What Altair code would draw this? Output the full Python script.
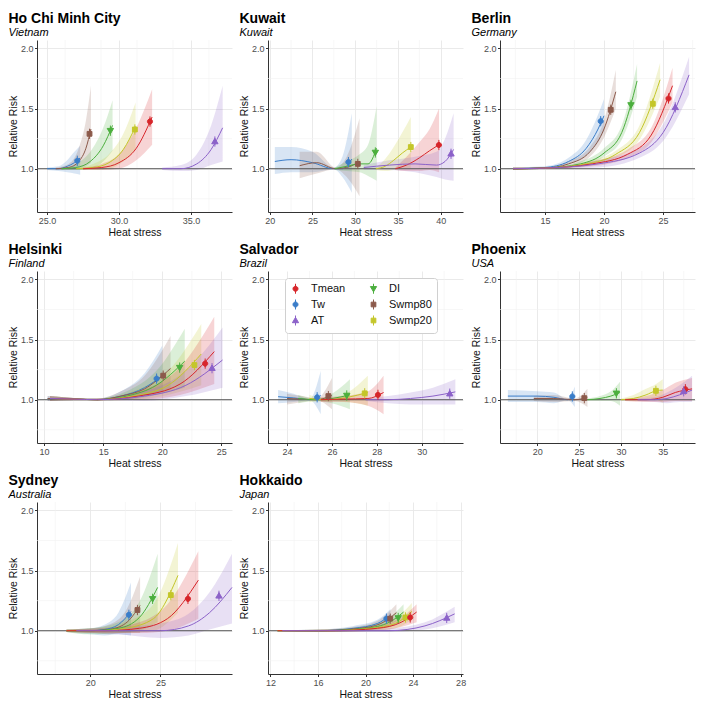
import altair as alt
import pandas as pd

INDICES = ["Tmean", "Tw", "AT", "DI", "Swmp80", "Swmp20"]
COLORS = ["#D7262B", "#3A7DC9", "#8C62C9", "#4CAF3E", "#8C5A4B", "#C4C62A"]

# point + range glyphs (unit-square paths: vertical range line with a marker)
KEY_CIRCLE = "M0,-1V1M-0.5,0A0.5,0.5 0 1,1 0.5,0A0.5,0.5 0 1,1 -0.5,0Z"
KEY_UP = "M0,-1V1M0,-0.62L0.62,0.44L-0.62,0.44Z"
KEY_DOWN = "M0,-1V1M0,0.62L0.62,-0.44L-0.62,-0.44Z"
KEY_SQUARE = "M0,-1V1M-0.47,-0.47H0.47V0.47H-0.47Z"
SHAPES = [KEY_CIRCLE, KEY_CIRCLE, KEY_UP, KEY_DOWN, KEY_SQUARE, KEY_SQUARE]

CITIES = ["Ho Chi Minh City", "Kuwait", "Berlin", "Helsinki", "Salvador",
          "Phoenix", "Sydney", "Hokkaido"]
COUNTRIES = ["Vietnam", "Kuwait", "Germany", "Finland", "Brazil", "USA",
             "Australia", "Japan"]

# curves: index -> (x, RR, lower CI, upper CI)
HCM_CURVES = {
    "Tw":     ([25.0, 25.8, 26.4, 26.9, 27.3], [1.0, 1.0, 1.02, 1.05, 1.09], [0.99, 0.98, 0.97, 0.96, 0.95], [1.01, 1.02, 1.07, 1.14, 1.19]),
    "Swmp80": ([25.6, 26.5, 27.2, 27.7, 28.05], [1.0, 1.01, 1.06, 1.17, 1.33], [0.99, 0.99, 1.0, 1.02, 1.05], [1.01, 1.04, 1.17, 1.40, 1.69]),
    "DI":     ([26.0, 27.0, 28.0, 28.9, 29.55], [1.0, 1.01, 1.06, 1.19, 1.36], [0.99, 0.99, 1.0, 1.06, 1.15], [1.01, 1.04, 1.14, 1.34, 1.57]),
    "Swmp20": ([27.0, 28.2, 29.3, 30.3, 31.15], [1.0, 1.01, 1.05, 1.16, 1.35], [0.99, 0.99, 1.0, 1.06, 1.16], [1.01, 1.04, 1.12, 1.29, 1.55]),
    "Tmean":  ([27.5, 28.8, 30.0, 31.2, 32.3], [1.0, 1.01, 1.05, 1.17, 1.43], [0.99, 0.99, 1.0, 1.07, 1.2], [1.01, 1.04, 1.12, 1.34, 1.66]),
    "AT":     ([33.0, 34.3, 35.4, 36.4, 37.2], [1.0, 1.0, 1.04, 1.16, 1.34], [0.99, 0.98, 0.99, 1.03, 1.06], [1.01, 1.03, 1.12, 1.36, 1.69]),
}
KUW_CURVES = {
    "Tw":     ([20.6, 22.5, 25.0, 27.5, 28.5, 29.6], [1.06, 1.075, 1.05, 1.0, 1.0, 1.08], [0.955, 0.97, 0.97, 0.995, 0.93, 0.80], [1.18, 1.18, 1.14, 1.01, 1.1, 1.46]),
    "Swmp80": ([23.5, 25.5, 27.7, 29.0, 30.5], [1.025, 1.05, 1.0, 1.01, 1.06], [0.92, 0.96, 0.995, 0.93, 0.77], [1.14, 1.14, 1.01, 1.1, 1.42]),
    "DI":     ([27.6, 29.0, 30.5, 31.5, 32.5], [1.0, 1.02, 1.04, 1.04, 1.17], [0.99, 0.98, 0.97, 0.94, 0.90], [1.01, 1.06, 1.12, 1.2, 1.52]),
    "Swmp20": ([32.4, 33.5, 34.5, 35.5, 36.5], [1.0, 1.02, 1.07, 1.13, 1.18], [0.99, 0.98, 0.99, 1.0, 1.0], [1.01, 1.08, 1.18, 1.3, 1.43]),
    "Tmean":  ([34.7, 36.0, 37.5, 38.7, 39.8], [1.0, 1.03, 1.09, 1.15, 1.2], [0.99, 0.98, 0.98, 0.99, 0.97], [1.01, 1.1, 1.22, 1.33, 1.5]),
    "AT":     ([31.0, 34.0, 37.0, 39.5, 40.5, 41.5], [1.01, 1.03, 1.04, 1.03, 1.06, 1.16], [0.99, 0.99, 0.97, 0.93, 0.91, 0.9], [1.03, 1.07, 1.1, 1.14, 1.25, 1.46]),
}
BER_CURVES = {
    "Tw":     ([12.3, 15.0, 17.0, 18.5, 19.5, 20.0], [1.0, 1.01, 1.06, 1.17, 1.33, 1.44], [0.99, 1.0, 1.04, 1.11, 1.22, 1.31], [1.01, 1.02, 1.09, 1.24, 1.45, 1.58]),
    "Swmp80": ([12.3, 15.0, 17.0, 18.8, 20.0, 21.0], [1.0, 1.005, 1.04, 1.14, 1.33, 1.64], [0.99, 1.0, 1.02, 1.1, 1.26, 1.5], [1.01, 1.01, 1.06, 1.18, 1.4, 1.82]),
    "DI":     ([12.3, 15.0, 18.0, 20.0, 21.5, 22.8], [1.0, 1.005, 1.04, 1.13, 1.3, 1.73], [0.99, 1.0, 1.02, 1.1, 1.24, 1.6], [1.01, 1.01, 1.06, 1.17, 1.36, 1.87]),
    "Swmp20": ([12.3, 15.0, 18.5, 21.0, 23.0, 24.75], [1.0, 1.005, 1.04, 1.12, 1.3, 1.74], [0.99, 1.0, 1.02, 1.09, 1.24, 1.6], [1.01, 1.01, 1.06, 1.15, 1.36, 1.88]),
    "Tmean":  ([12.3, 15.0, 19.0, 22.0, 24.0, 25.8], [1.0, 1.005, 1.04, 1.12, 1.28, 1.69], [0.99, 1.0, 1.02, 1.09, 1.22, 1.55], [1.01, 1.01, 1.06, 1.16, 1.34, 1.84]),
    "AT":     ([12.3, 15.0, 19.5, 23.0, 25.0, 27.2], [1.0, 1.005, 1.04, 1.13, 1.3, 1.78], [0.99, 1.0, 1.01, 1.09, 1.23, 1.62], [1.01, 1.01, 1.07, 1.17, 1.37, 1.93]),
}
HEL_CURVES = {
    "Tw":     ([10.3, 12.5, 14.5, 16.5, 18.5, 20.0], [1.01, 1.005, 1.0, 1.03, 1.1, 1.2], [0.99, 0.995, 0.995, 1.0, 1.03, 1.07], [1.03, 1.015, 1.01, 1.07, 1.22, 1.45]),
    "Swmp80": ([10.3, 12.5, 14.5, 16.5, 18.5, 20.7], [1.01, 1.005, 1.0, 1.03, 1.09, 1.26], [0.99, 0.995, 0.995, 1.0, 1.03, 1.08], [1.03, 1.015, 1.01, 1.07, 1.2, 1.53]),
    "DI":     ([10.5, 12.5, 14.5, 17.0, 19.5, 21.9], [1.01, 1.005, 1.0, 1.03, 1.12, 1.32], [0.99, 0.995, 0.995, 1.0, 1.04, 1.1], [1.03, 1.015, 1.01, 1.07, 1.24, 1.59]),
    "Swmp20": ([10.5, 12.5, 14.5, 17.5, 20.5, 23.3], [1.01, 1.005, 1.0, 1.03, 1.12, 1.38], [0.99, 0.995, 0.995, 1.0, 1.04, 1.12], [1.03, 1.015, 1.01, 1.07, 1.24, 1.63]),
    "Tmean":  ([10.5, 12.5, 14.5, 18.0, 21.5, 24.4], [1.01, 1.005, 1.0, 1.03, 1.13, 1.4], [0.99, 0.995, 0.995, 1.0, 1.04, 1.13], [1.03, 1.015, 1.01, 1.07, 1.27, 1.69]),
    "AT":     ([10.5, 12.5, 14.5, 18.5, 22.0, 25.1], [1.01, 1.005, 1.0, 1.03, 1.12, 1.33], [0.99, 0.995, 0.995, 0.99, 1.03, 1.1], [1.03, 1.015, 1.01, 1.07, 1.24, 1.6]),
}
SAL_CURVES = {
    "Tw":     ([23.6, 24.3, 25.0, 25.5], [1.025, 1.015, 1.0, 1.035], [0.97, 0.98, 0.995, 0.88], [1.08, 1.05, 1.005, 1.24]),
    "Swmp80": ([24.0, 24.7, 25.3, 26.0], [1.01, 1.005, 1.0, 1.035], [0.96, 0.98, 0.995, 0.92], [1.05, 1.03, 1.01, 1.18]),
    "DI":     ([24.5, 25.3, 26.0, 26.8], [1.01, 1.0, 1.01, 1.04], [0.97, 0.99, 0.97, 0.92], [1.04, 1.01, 1.05, 1.17]),
    "Swmp20": ([25.0, 25.8, 26.7, 27.6], [1.01, 1.0, 1.02, 1.06], [0.98, 0.99, 0.98, 0.95], [1.04, 1.01, 1.06, 1.2]),
    "Tmean":  ([25.5, 26.5, 27.6, 28.3], [1.0, 1.005, 1.01, 1.06], [0.98, 0.98, 0.95, 0.88], [1.02, 1.03, 1.07, 1.2]),
    "AT":     ([27.5, 28.5, 29.5, 30.5, 31.5], [1.0, 1.0, 1.01, 1.03, 1.065], [0.99, 0.97, 0.96, 0.96, 0.96], [1.01, 1.03, 1.06, 1.1, 1.17]),
}
PHX_CURVES = {
    "Tw":     ([16.5, 20.0, 22.0, 23.6, 24.5], [1.03, 1.03, 1.02, 1.0, 1.03], [0.98, 0.98, 0.97, 0.995, 0.94], [1.08, 1.07, 1.06, 1.005, 1.11]),
    "Swmp80": ([19.6, 22.0, 24.5, 26.0], [1.01, 1.01, 1.0, 1.02], [0.99, 0.98, 0.99, 0.94], [1.03, 1.04, 1.01, 1.09]),
    "DI":     ([26.0, 27.5, 28.8, 29.9], [1.0, 1.01, 1.03, 1.06], [0.99, 0.99, 0.99, 0.95], [1.01, 1.03, 1.07, 1.15]),
    "Swmp20": ([30.0, 31.5, 33.0, 34.2, 35.0], [1.0, 1.01, 1.04, 1.074, 1.08], [0.99, 0.99, 1.0, 1.0, 0.97], [1.01, 1.04, 1.09, 1.13, 1.17]),
    "Tmean":  ([30.5, 33.0, 35.0, 36.5, 38.5], [1.0, 1.0, 1.02, 1.06, 1.09], [0.99, 0.98, 0.98, 0.99, 0.99], [1.01, 1.03, 1.08, 1.14, 1.18]),
    "AT":     ([32.0, 34.0, 35.5, 37.0, 38.5], [1.0, 1.0, 1.01, 1.04, 1.08], [0.99, 0.98, 0.97, 0.98, 0.98], [1.01, 1.02, 1.06, 1.12, 1.2]),
}
SYD_CURVES = {
    "Tw":     ([18.3, 20.0, 21.0, 22.0, 22.9], [1.0, 1.0, 1.01, 1.05, 1.16], [0.99, 0.97, 0.96, 0.97, 0.96], [1.01, 1.02, 1.05, 1.15, 1.4]),
    "Swmp80": ([18.3, 20.0, 21.3, 22.5, 23.55], [1.0, 1.0, 1.01, 1.06, 1.21], [0.99, 0.98, 0.97, 0.98, 0.98], [1.01, 1.02, 1.05, 1.16, 1.45]),
    "DI":     ([18.3, 20.0, 22.0, 23.5, 24.8], [1.0, 1.0, 1.02, 1.11, 1.36], [0.99, 0.97, 0.98, 1.0, 1.07], [1.01, 1.02, 1.07, 1.24, 1.64]),
    "Swmp20": ([18.3, 20.5, 22.5, 24.5, 26.25], [1.0, 1.0, 1.02, 1.1, 1.46], [0.99, 0.98, 0.98, 1.0, 1.15], [1.01, 1.02, 1.07, 1.22, 1.73]),
    "Tmean":  ([18.3, 21.0, 23.5, 25.5, 27.7], [1.0, 1.0, 1.02, 1.1, 1.42], [0.99, 0.98, 0.98, 1.0, 1.1], [1.01, 1.02, 1.07, 1.22, 1.66]),
    "AT":     ([19.0, 22.0, 25.0, 27.0, 28.5, 30.1], [1.0, 1.0, 1.0, 1.04, 1.15, 1.36], [0.99, 0.97, 0.94, 0.96, 1.01, 1.06], [1.01, 1.03, 1.06, 1.14, 1.32, 1.64]),
}
HOK_CURVES = {
    "Tw":     ([12.6, 16.0, 19.0, 21.0, 22.1], [1.0, 1.0, 1.02, 1.06, 1.13], [0.995, 0.99, 1.0, 1.03, 1.07], [1.005, 1.01, 1.04, 1.09, 1.18]),
    "Swmp80": ([12.6, 16.0, 19.5, 21.3, 22.6], [1.0, 1.0, 1.02, 1.06, 1.15], [0.995, 0.99, 1.0, 1.02, 1.08], [1.005, 1.01, 1.04, 1.1, 1.22]),
    "DI":     ([12.6, 16.5, 20.0, 22.0, 23.2], [1.0, 1.0, 1.02, 1.07, 1.155], [0.995, 0.99, 1.0, 1.03, 1.09], [1.005, 1.01, 1.04, 1.11, 1.22]),
    "Swmp20": ([12.6, 17.0, 20.5, 22.5, 23.9], [1.0, 1.0, 1.02, 1.06, 1.16], [0.995, 0.99, 1.0, 1.02, 1.09], [1.005, 1.01, 1.04, 1.1, 1.23]),
    "Tmean":  ([12.6, 17.0, 21.0, 23.0, 24.3], [1.0, 1.0, 1.02, 1.07, 1.155], [0.995, 0.99, 1.0, 1.03, 1.07], [1.005, 1.01, 1.04, 1.11, 1.22]),
    "AT":     ([13.0, 18.0, 22.0, 25.0, 27.5], [1.0, 1.0, 1.0, 1.04, 1.14], [0.995, 0.99, 0.99, 1.01, 1.07], [1.005, 1.01, 1.02, 1.07, 1.2]),
}

# points at the 99th percentile: index -> (x, RR, lower, upper)
HCM_POINTS = {"Tw": (27.1, 1.066, 1.045, 1.085), "Swmp80": (27.95, 1.29, 1.26, 1.32), "DI": (29.4, 1.316, 1.29, 1.345),
              "Swmp20": (31.1, 1.326, 1.30, 1.35), "Tmean": (32.15, 1.392, 1.365, 1.42), "AT": (36.66, 1.226, 1.20, 1.25)}
KUW_POINTS = {"Tw": (29.2, 1.055, 1.035, 1.075), "Swmp80": (30.3, 1.04, 1.02, 1.06), "DI": (32.35, 1.135, 1.11, 1.16),
              "Swmp20": (36.5, 1.18, 1.16, 1.2), "Tmean": (39.78, 1.197, 1.175, 1.22), "AT": (41.2, 1.124, 1.10, 1.15)}
BER_POINTS = {"Tw": (19.72, 1.395, 1.365, 1.425), "Swmp80": (20.57, 1.49, 1.46, 1.52), "DI": (22.28, 1.53, 1.50, 1.56),
              "Swmp20": (24.13, 1.54, 1.51, 1.57), "Tmean": (25.46, 1.584, 1.555, 1.615), "AT": (26.03, 1.51, 1.48, 1.54)}
HEL_POINTS = {"Tw": (19.52, 1.175, 1.155, 1.195), "Swmp80": (20.08, 1.2, 1.18, 1.22), "DI": (21.47, 1.267, 1.245, 1.29),
              "Swmp20": (22.72, 1.288, 1.265, 1.31), "Tmean": (23.63, 1.3, 1.275, 1.325), "AT": (24.21, 1.262, 1.24, 1.285)}
SAL_POINTS = {"Tw": (25.34, 1.02, 1.0, 1.04), "Swmp80": (25.84, 1.03, 1.01, 1.05), "DI": (26.66, 1.035, 1.015, 1.055),
              "Swmp20": (27.46, 1.053, 1.033, 1.073), "Tmean": (28.05, 1.04, 1.02, 1.06), "AT": (31.25, 1.05, 1.03, 1.07)}
PHX_POINTS = {"Tw": (24.2, 1.027, 1.007, 1.047), "Swmp80": (25.63, 1.013, 0.995, 1.03), "DI": (29.46, 1.053, 1.033, 1.073),
              "Swmp20": (34.18, 1.074, 1.054, 1.094), "Tmean": (37.7, 1.087, 1.067, 1.107), "AT": (37.5, 1.07, 1.05, 1.09)}
SYD_POINTS = {"Tw": (22.75, 1.132, 1.11, 1.155), "Swmp80": (23.36, 1.172, 1.15, 1.195), "DI": (24.44, 1.265, 1.24, 1.29),
              "Swmp20": (25.74, 1.296, 1.27, 1.32), "Tmean": (26.96, 1.265, 1.24, 1.29), "AT": (29.17, 1.29, 1.265, 1.315)}
HOK_POINTS = {"Tw": (21.76, 1.1, 1.08, 1.12), "Swmp80": (22.08, 1.1, 1.08, 1.12), "DI": (22.75, 1.106, 1.086, 1.126),
              "Swmp20": (23.36, 1.11, 1.09, 1.13), "Tmean": (23.76, 1.11, 1.09, 1.13), "AT": (26.83, 1.106, 1.086, 1.126)}

ALL_CURVES = [HCM_CURVES, KUW_CURVES, BER_CURVES, HEL_CURVES, SAL_CURVES, PHX_CURVES, SYD_CURVES, HOK_CURVES]
ALL_POINTS = [HCM_POINTS, KUW_POINTS, BER_POINTS, HEL_POINTS, SAL_POINTS, PHX_POINTS, SYD_POINTS, HOK_POINTS]

X_DOMAINS = [[24.3, 37.85], [19.8, 42.6], [11.2, 27.7], [9.4, 25.9],
             [23.15, 31.84], [15.56, 38.85], [16.2, 30.1], [11.8, 28.2]]
X_MAJOR = [[25, 27.5, 30, 32.5, 35, 37.5], [20, 25, 30, 35, 40], [15, 20, 25], [10, 15, 20, 25],
           [24, 26, 28, 30], [20, 25, 30, 35], [20, 25], [12, 16, 20, 24, 28]]
X_MINOR = [[26.25, 28.75, 31.25, 33.75, 36.25], [22.5, 27.5, 32.5, 37.5], [12.5, 17.5, 22.5, 27.5],
           [12.5, 17.5, 22.5], [25, 27, 29, 31], [17.5, 22.5, 27.5, 32.5, 37.5], [17.5, 22.5, 27.5],
           [14, 18, 22, 26]]
X_FORMAT = [".1f", "d", "d", "d", "d", "d", "d", "d"]

Y_DOMAIN = [0.64, 2.07]
Y_MAJOR = [1.0, 1.5, 2.0]
Y_MINOR = [0.75, 1.25, 1.75]
REF_RR = [1.0]

FONT = "Liberation Sans"
PANEL_W = 195
PANEL_H = 172

# legend scales (point glyphs) and a separate colour scale for ribbons / lines
key_scale = alt.Scale(domain=INDICES, range=COLORS)
shape_scale = alt.Scale(domain=INDICES, range=SHAPES)
paint_scale = alt.Scale(domain=INDICES[::-1], range=COLORS[::-1])

LEGEND = alt.Legend(title=None, orient="none", legendX=248, legendY=238, columns=2)


def panel(i):
    rows = []
    for idx, (xs, ys, los, his) in ALL_CURVES[i].items():
        for x, y, lo, hi in zip(xs, ys, los, his):
            rows.append({"index": idx, "x": x, "y": y, "lo": lo, "hi": hi})
    cdf = pd.DataFrame(rows)
    pdf = pd.DataFrame([{"index": k, "px": v[0], "py": v[1], "plo": v[2], "phi": v[3]}
                        for k, v in ALL_POINTS[i].items()])
    rdf = pd.DataFrame({"rr": REF_RR})

    xscale = alt.Scale(domain=X_DOMAINS[i], nice=False, zero=False)
    yscale = alt.Scale(domain=Y_DOMAIN, nice=False, zero=False)
    xaxis = alt.Axis(values=X_MAJOR[i], title="Heat stress", format=X_FORMAT[i],
                     labelOverlap=False)
    yaxis = alt.Axis(values=Y_MAJOR, title="Relative Risk", format=".1f",
                     labelOverlap=False)

    gx = alt.Chart(pd.DataFrame({"gx": X_MINOR[i]})).mark_rule(
        color="#f1f1f1", strokeWidth=0.6).encode(
        x=alt.X("gx:Q", scale=xscale, axis=xaxis))
    gy = alt.Chart(pd.DataFrame({"gy": Y_MINOR})).mark_rule(
        color="#f1f1f1", strokeWidth=0.6).encode(
        y=alt.Y("gy:Q", scale=yscale, axis=yaxis))

    ribbon = alt.Chart(cdf).mark_area(opacity=0.2, interpolate="monotone").encode(
        x=alt.X("x:Q", scale=xscale),
        y=alt.Y("lo:Q", scale=yscale),
        y2="hi:Q",
        color=alt.Color("index:N", scale=paint_scale, legend=None),
        detail="index:N",
    )
    ref = alt.Chart(rdf).mark_rule(color="#5a5a5a", strokeWidth=1).encode(
        y=alt.Y("rr:Q", scale=yscale)
    )
    line = alt.Chart(cdf).mark_line(strokeWidth=1, interpolate="monotone").encode(
        x=alt.X("x:Q", scale=xscale),
        y=alt.Y("y:Q", scale=yscale),
        color=alt.Color("index:N", scale=paint_scale, legend=None),
        detail="index:N",
    )
    err = alt.Chart(pdf).mark_rule(strokeWidth=1.1).encode(
        x=alt.X("px:Q", scale=xscale),
        y=alt.Y("plo:Q", scale=yscale),
        y2="phi:Q",
        color=alt.Color("index:N", scale=paint_scale, legend=None),
    )
    pts = alt.Chart(pdf).mark_point(filled=True, size=105, strokeWidth=1.0, opacity=1).encode(
        x=alt.X("px:Q", scale=xscale),
        y=alt.Y("py:Q", scale=yscale),
        fill=alt.Fill("index:N", scale=key_scale, legend=LEGEND),
        stroke=alt.Stroke("index:N", scale=key_scale, legend=LEGEND),
        shape=alt.Shape("index:N", scale=shape_scale, legend=LEGEND),
    )
    return alt.layer(gx, gy, ribbon, ref, line, err, pts).properties(
        width=PANEL_W, height=PANEL_H,
        title=alt.TitleParams(
            text=CITIES[i], subtitle=COUNTRIES[i], anchor="start", frame="bounds",
            font=FONT, fontSize=14, fontWeight="bold", color="#000000",
            subtitleFont=FONT, subtitleFontSize=11, subtitleFontStyle="italic",
            subtitleColor="#000000", subtitlePadding=1, offset=2,
        ),
    )


chart = alt.concat(*[panel(i) for i in range(len(CITIES))], columns=3,
                   spacing={"row": 4, "column": 5}).properties(
    padding={"top": 3, "left": 0, "right": 0, "bottom": 0})

chart = chart.configure_view(stroke=None).configure_axis(
    labelFont=FONT, labelFontSize=9, labelColor="#4d4d4d",
    titleFont=FONT, titleFontSize=10.5, titleFontWeight="normal", titleColor="#111111",
    domainColor="#333333", domainWidth=1, gridColor="#e8e8e8", gridWidth=0.9,
    tickColor="#333333", tickSize=2.5, labelPadding=1.5, titlePadding=2,
).configure_legend(
    labelFont=FONT, labelFontSize=11, labelColor="#111111",
    fillColor="#ffffff", strokeColor="#d0d0d0", padding=5, cornerRadius=3,
    symbolSize=100, symbolStrokeWidth=1.0, rowPadding=1, columnPadding=22, labelOffset=10,
)

chart.save("out.html", embed_options={"renderer": "svg", "actions": False})
